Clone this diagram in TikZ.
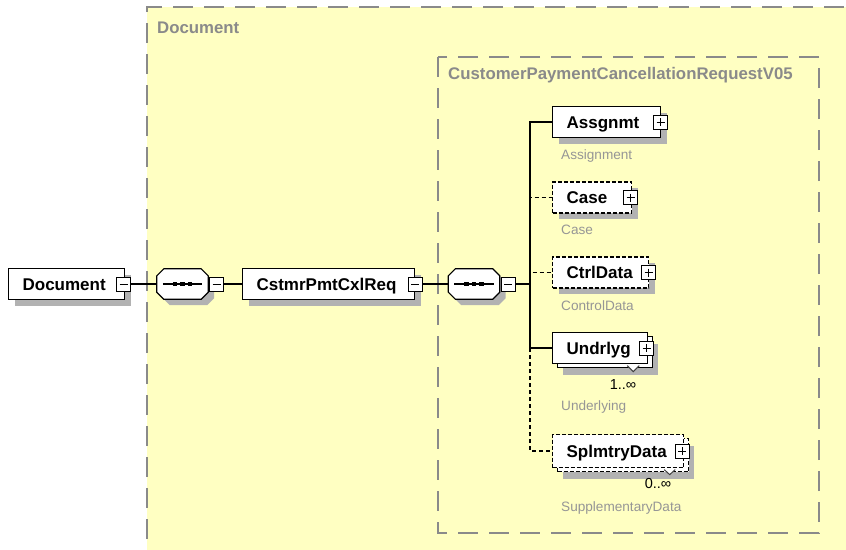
\documentclass[tikz,border=0pt]{standalone}
\usepackage{fontspec}
\setmainfont{Liberation Sans}
\usetikzlibrary{shadows}
\definecolor{ylw}{RGB}{255,255,194}
\definecolor{framegray}{RGB}{138,138,138}
\definecolor{lblgray}{RGB}{150,150,150}
\definecolor{shd}{RGB}{178,178,178}
\tikzset{
  frame/.style={draw=framegray, line width=1.5pt, dash pattern=on 20pt off 11pt},
  ttl/.style={font=\fontsize{16.8}{19}\selectfont\bfseries, text=framegray, anchor=west, inner sep=0pt},
  elembase/.style={draw=black, line width=1.2pt, fill=white, anchor=west, minimum height=31pt,
    inner xsep=14pt, inner ysep=0pt, align=left, text height=14pt, text depth=2pt,
    font=\fontsize{17}{20}\selectfont\bfseries},
  elem/.style={elembase, drop shadow={shadow xshift=6pt, shadow yshift=-6pt, fill=shd, opacity=1}},
  stackelem/.style={elembase,
    drop shadow={shadow xshift=10pt, shadow yshift=-11pt, fill=shd, opacity=1},
    copy shadow={shadow xshift=5pt, shadow yshift=-4pt}},
  optional/.style={dash pattern=on 4pt off 2pt},
  pmbase/.style={draw=black, line width=1pt, fill=white, minimum size=14pt, inner sep=0pt},
  plusbox/.style={pmbase, path picture={
    \draw[black, line width=1pt] ([xshift=3pt]path picture bounding box.west) -- ([xshift=-3pt]path picture bounding box.east);
    \draw[black, line width=1pt] ([yshift=-3pt]path picture bounding box.north) -- ([yshift=3pt]path picture bounding box.south);}},
  minusbox/.style={pmbase, path picture={
    \draw[black, line width=1pt] ([xshift=3pt]path picture bounding box.west) -- ([xshift=-3pt]path picture bounding box.east);}},
  seqbox/.style={rectangle, draw=none, minimum width=51pt, minimum height=30pt, inner sep=0pt},
  octo/.style={draw=black, line width=1.2pt, fill=white,
    drop shadow={shadow xshift=6pt, shadow yshift=-6pt, fill=shd, opacity=1}},
  conn/.style={draw=black, line width=1.2pt},
  optconn/.style={conn, dash pattern=on 4pt off 3pt},
  lbl/.style={font=\fontsize{13.6}{16}\selectfont, text=lblgray, anchor=west, inner sep=0pt, text height=10pt, text depth=3pt},
  mult/.style={font=\fontsize{14.5}{17}\selectfont, text=black, inner sep=0pt},
  chev/.style={draw=black!75, line width=1pt, fill=white}
}
% draws the octagonal sequence symbol over the named (invisible) node
\newcommand\seqsymbol[1]{%
  \draw[octo] ([xshift=7pt]#1.north west) -- ([xshift=-7pt]#1.north east)
    -- ([yshift=-7pt]#1.north east) -- ([yshift=7pt]#1.south east)
    -- ([xshift=-7pt]#1.south east) -- ([xshift=7pt]#1.south west)
    -- ([yshift=7pt]#1.south west) -- ([yshift=-7pt]#1.north west) -- cycle;
  \draw[black, line width=1.2pt] ([xshift=6pt]#1.west) -- ([xshift=-6pt]#1.east);
  \fill[black] ([shift={(-9.75pt,-2.25pt)}]#1.center) rectangle ++(4.5pt,4.5pt);
  \fill[black] ([shift={(-2.25pt,-2.25pt)}]#1.center) rectangle ++(4.5pt,4.5pt);
  \fill[black] ([shift={(5.25pt,-2.25pt)}]#1.center) rectangle ++(4.5pt,4.5pt);}
\begin{document}
\begin{tikzpicture}[x=1pt,y=-1pt]
\useasboundingbox (0,0) rectangle (846,549);
\clip (0,0) rectangle (846,549);
% containers
\fill[ylw] (147,7) rectangle (870,570);
\draw[frame] (147,570) -- (147,7) -- (870,7);
\draw[frame] (438,57) rectangle (819,533);
\node[ttl] (ttlouter) at (157,28) {Document};
\node[ttl] (ttlinner) at (448,75) {CustomerPaymentCancellationRequestV05};

% main chain
\node[elem, text width=88pt] (doc) at (8,284) {Document};
\node[minusbox] (docm) at ([xshift=-1.5pt]doc.east) {};
\node[seqbox] (seq1) at (182.5,284) {};
\seqsymbol{seq1}
\node[minusbox, anchor=west] (seq1m) at ([xshift=1pt]seq1.east) {};
\node[elem, text width=144pt] (cst) at (242,284) {CstmrPmtCxlReq};
\node[minusbox] (cstm) at (cst.east) {};
\node[seqbox] (seq2) at (474,284) {};
\seqsymbol{seq2}
\node[minusbox, anchor=west] (seq2m) at ([xshift=1pt]seq2.east) {};
\coordinate (trunk) at (530,284);

% children
\node[elem, text width=80pt] (assg) at (552,122) {Assgnmt};
\node[plusbox] (assgp) at ([xshift=-0.5pt]assg.east) {};
\node[lbl] (assgl) at (561,156) {Assignment};

\node[elem, optional, text width=51pt] (case) at (552,197.5) {Case};
\node[plusbox] (casep) at ([xshift=-1.5pt]case.east) {};
\node[lbl] (casel) at (561,231) {Case};

\node[elem, optional, text width=68pt] (ctrl) at (552,272.5) {CtrlData};
\node[plusbox] (ctrlp) at ([xshift=-0.5pt]ctrl.east) {};
\node[lbl] (ctrll) at (561,307) {ControlData};

\node[stackelem, text width=67pt] (undr) at (552,348) {Undrlyg};
\draw[chev] ([shift={(-21,1.5)}]undr.south east) -- ++(6,6) -- ++(6,-6);
\node[plusbox] (undrp) at ([xshift=-1.5pt]undr.east) {};
\node[mult] (undrm) at (623,385) {1..∞};
\node[lbl] (undrl) at (561,407) {Underlying};

\node[stackelem, optional, text width=103pt, minimum height=33pt] (spl) at (552,451) {SplmtryData};
\draw[chev] ([shift={(-20,1.5)}]spl.south east) -- ++(5.5,5) -- ++(5.5,-5);
\node[plusbox] (splp) at ([xshift=-2pt]spl.east) {};
\node[mult] (splm) at (658,484) {0..∞};
\node[lbl] (spll) at (561,508) {SupplementaryData};

% connectors
\draw[conn] (docm.east) -- (seq1.west);
\draw[conn] (seq1m.east) -- (cst.west);
\draw[conn] (cstm.east) -- (seq2.west);
\draw[conn] (seq2m.east) -- (trunk);
\draw[optconn] (trunk) |- (case.west);
\draw[optconn] (trunk) |- (ctrl.west);
\draw[optconn] (undr.west -| trunk) |- (spl.west);
\draw[conn] (trunk) |- (assg.west);
\draw[conn] (trunk) |- (undr.west);
\end{tikzpicture}
\end{document}
